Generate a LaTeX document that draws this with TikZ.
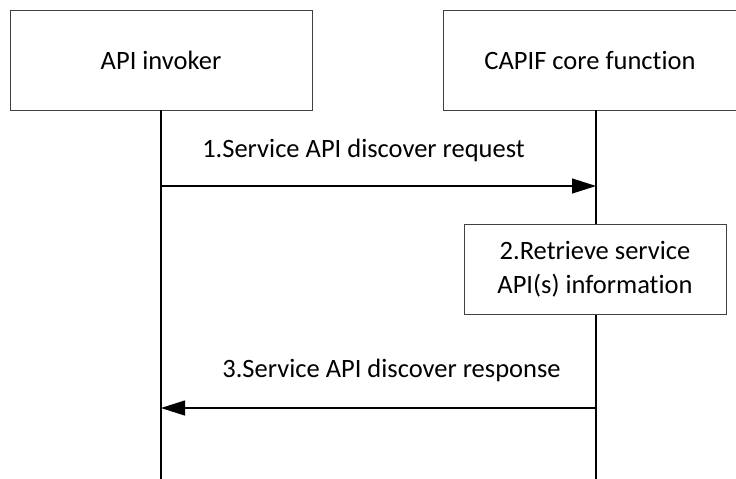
\documentclass[tikz,border=0pt]{standalone}
\usepackage{fontspec}
\setmainfont{Carlito}[Ligatures=NoCommon]
\usepackage{tikz}
\usetikzlibrary{arrows.meta}

\begin{document}
\begin{tikzpicture}[x=1pt,y=-1pt]
\tikzset{entity/.style = {shape=rectangle,draw=black!75,line width=0.8pt,minimum height=100pt,font=\fontsize{26.5}{32}\selectfont}}
\tikzset{action/.style = {shape=rectangle,draw=black!75,line width=0.8pt,minimum width=262pt,minimum height=90pt,align=center,font=\fontsize{26.5}{34}\selectfont}}
\tikzset{msg/.style = {-{Triangle[length=24pt,width=15pt]},line width=1.2pt}}
\tikzset{msglabel/.style = {font=\fontsize{26.5}{32}\selectfont}}
\tikzset{lifeline/.style = {line width=1.2pt}}
\useasboundingbox (0,0) rectangle (736,479);
% entities
\node[entity,minimum width=302pt] (inv) at (161,60) {API invoker};
\node[entity,minimum width=294pt] (ccf) at (590,60) {CAPIF core function};
% lifeline ends
\coordinate (invend) at (161,479);
\coordinate (ccfend) at (596,479);
\coordinate (inv1) at (161,186);
\coordinate (ccf1) at (596,186);
\coordinate (inv3) at (161,408);
\coordinate (ccf3) at (596,408);
%lifelines
\draw[lifeline] (inv.south) -- (invend);
\draw[lifeline] (596,110) -- (ccfend);
% local step
\node[action,fill=white] (retr) at (595,269) {2.Retrieve service\\API(s) information};
%messages
\draw[msg] (inv1) -- node[msglabel,above=20pt,xshift=-15pt] {1.Service API discover request} (ccf1);
\draw[msg] (ccf3) -- node[msglabel,above=22pt,xshift=13pt] {3.Service API discover response} (inv3);
\end{tikzpicture}
\end{document}
